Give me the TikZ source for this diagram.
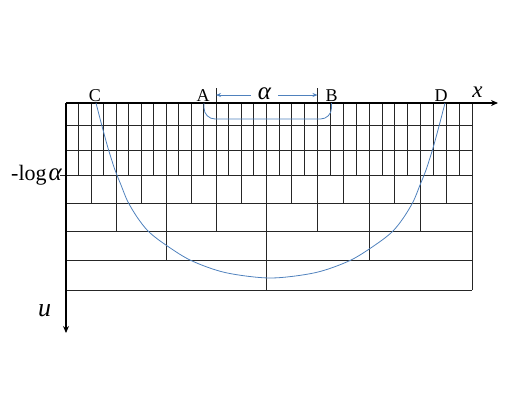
\documentclass[tikz,border=0pt]{standalone}
\usepackage{fontspec}
\setmainfont{Liberation Serif}
\usetikzlibrary{arrows.meta}
\definecolor{curveblue}{RGB}{79,129,189}
\tikzset{
  gridline/.style={draw=black!85, line width=0.7pt},
  axisline/.style={draw=black, line width=1.5pt, -{Stealth[length=7pt,width=6pt]}},
  bluecurve/.style={draw=curveblue, line width=0.8pt},
  bluearrow/.style={draw=curveblue, line width=0.7pt, -{Stealth[length=5pt,width=4pt]}},
  ptlabel/.style={inner sep=0pt, anchor=base, font=\fontsize{18}{18}\selectfont},
  axlabel/.style={inner sep=0pt, anchor=base, font=\fontsize{24}{24}\selectfont\itshape},
}
\newcommand{\colx}[1]{\pgfmathsetmacro{\cx}{ifthenelse(#1<=16, 66+12.5*#1, 266+12.875*(#1-16))}}
\begin{document}
\begin{tikzpicture}[x=1pt,y=-1pt]
\useasboundingbox (0,0) rectangle (518,400);
% grid: horizontal lines
\foreach \yy in {125,150,175,203,231,260,290} {
  \draw[gridline] (66,\yy) -- (472,\yy);
}
\draw[gridline] (60,175) -- (66,175);
% vertical lines
\foreach \k in {1,...,31} { \colx{\k} \draw[gridline] (\cx,103) -- (\cx,175); }
\foreach \k in {2,4,...,30} { \colx{\k} \draw[gridline] (\cx,175) -- (\cx,203); }
\foreach \k in {4,8,...,28} { \colx{\k} \draw[gridline] (\cx,203) -- (\cx,231); }
\foreach \k in {8,16,24} { \colx{\k} \draw[gridline] (\cx,231) -- (\cx,260); }
\draw[gridline] (266,260) -- (266,290);
\draw[gridline] (472,103) -- (472,290);
% A and B marks
\coordinate (aL) at (216,95);
\coordinate (aR) at (317.5,95);
\draw[gridline] (216,88) -- (216,103);
\draw[gridline] (317.5,88) -- (317.5,103);
% axes
\coordinate (O) at (66,103);
\coordinate (xend) at (498,103);
\coordinate (uend) at (66,333);
\draw[axisline] (O) -- (xend);
\draw[axisline] (O) -- (uend);
% labels
\node[ptlabel] (C) at (95,101.5) {C};
\node[ptlabel] (A) at (203,101.5) {A};
\node[ptlabel] (B) at (331.5,101.5) {B};
\node[ptlabel] (D) at (441,101.5) {D};
\node[inner xsep=7pt, inner ysep=0pt, anchor=base, font=\fontsize{25}{25}\selectfont\itshape] (alpha) at (264.5,99) {α};
\draw[bluearrow] (alpha.west |- aL) -- (aL);
\draw[bluearrow] (alpha.east |- aR) -- (aR);
\node[axlabel, font=\fontsize{23}{23}\selectfont\itshape] (xl) at (477.5,97) {x};
\node[axlabel, font=\fontsize{26}{26}\selectfont\itshape] (ul) at (44.5,316) {u};
\node[inner sep=0pt, anchor=base east, font=\fontsize{22}{22}\selectfont] (lg) at (62,180.5) {-log\hspace{2pt}{\fontsize{25}{25}\selectfont\itshape α}};
% curves
\draw[bluecurve] plot[smooth] coordinates {(96,103) (101.7,125) (108,148) (115,170) (121,185) (127.5,201) (137,217) (148,231) (163,243) (190,260) (225,272.5) (270.5,278) (316,272.5) (351,260) (378,243) (393,231) (404,217) (413.5,201) (420,185) (426,170) (433,148) (439.3,125) (445,103)};
\draw[bluecurve, rounded corners=11pt] (204,103) -- (204,119) -- (331.5,119) -- (331.5,103);
\end{tikzpicture}
\end{document}
